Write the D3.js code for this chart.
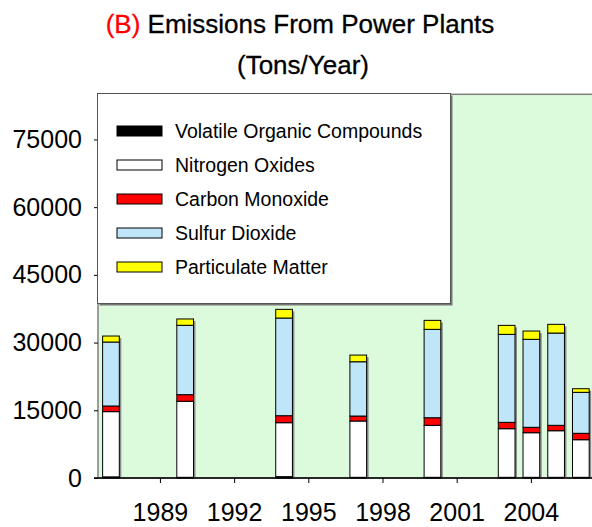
<!DOCTYPE html>
<html>
<head>
<meta charset="utf-8">
<script src="https://cdn.jsdelivr.net/npm/d3@7"></script>
<style>
  body { margin: 0; background: #fff; }
  text { font-family: "Liberation Sans", Arial, sans-serif; }
</style>
</head>
<body>
<div class="chart"></div>
<script>
// Emissions from power plants, stacked columns
// data (tons / year)
var years = [1987, 1990, 1994, 1997, 2000, 2003, 2004, 2005, 2006];
var voc = [250, 150, 300, 150, 150, 150, 150, 150, 150];
var nox = [14450, 16850, 11950, 12470, 11520, 10770, 9880, 10320, 8330];
var co = [1250, 1460, 1550, 1110, 1680, 1410, 1200, 1200, 1420];
var so2 = [14170, 15370, 21635, 12020, 19580, 19490, 19490, 20440, 9080];
var pm = [1330, 1400, 1925, 1480, 1990, 1990, 1840, 1930, 800];

var seriesNames = ["Volatile Organic Compounds", "Nitrogen Oxides", "Carbon Monoxide", "Sulfur Dioxide", "Particulate Matter"];
var seriesKeys = ["voc", "nox", "co", "so2", "pm"];
var seriesColors = ["#000000", "#ffffff", "#ff0000", "#bfe6f8", "#ffff00"];

var yTicks = [0, 15000, 30000, 45000, 60000, 75000];
var xTicks = [1989, 1992, 1995, 1998, 2001, 2004];

// Step 1: chart setup
var svgWidth = 592;
var svgHeight = 527;
var plot = { left: 98, top: 94.3, bottom: 478, right: 600 };

var svg = d3.select(".chart")
  .append("svg")
  .attr("width", svgWidth)
  .attr("height", svgHeight);

// rows for the stack
var rows = years.map(function (y, i) {
  return { year: y, voc: voc[i], nox: nox[i], co: co[i], so2: so2[i], pm: pm[i] };
});

// Step 2: scales
var xScale = d3.scaleBand()
  .domain(d3.range(1987, 2007))
  .range([98.6, 98.6 + 20 * 24.73])
  .paddingInner(0.325)
  .paddingOuter(0.1625);

var yScale = d3.scaleLinear()
  .domain([0, 85000])
  .range([plot.bottom, plot.top]);

// Step 3: plot area
svg.append("rect")
  .attr("x", plot.left)
  .attr("y", plot.top)
  .attr("width", plot.right - plot.left)
  .attr("height", plot.bottom - plot.top)
  .attr("fill", "#dcfadc")
  .attr("stroke", "#808080")
  .attr("stroke-width", 1.5);

// Step 4: stacked bars
var stacked = d3.stack().keys(seriesKeys)(rows);

// shadows first
svg.append("g").selectAll("rect")
  .data(rows)
  .enter()
  .append("rect")
  .attr("x", d => xScale(d.year) + 2)
  .attr("y", d => yScale(d.voc + d.nox + d.co + d.so2 + d.pm) + 2)
  .attr("width", xScale.bandwidth())
  .attr("height", d => plot.bottom - yScale(d.voc + d.nox + d.co + d.so2 + d.pm) - 2)
  .attr("fill", "#8c8c8c");

stacked.forEach(function (layer, k) {
  svg.append("g").selectAll("rect")
    .data(layer)
    .enter()
    .append("rect")
    .attr("x", d => xScale(d.data.year))
    .attr("y", d => yScale(d[1]))
    .attr("width", xScale.bandwidth())
    .attr("height", d => yScale(d[0]) - yScale(d[1]))
    .attr("fill", seriesColors[k])
    .attr("stroke", "#000")
    .attr("stroke-width", 1);
});

// Step 5: axes
var leftAxis = d3.axisLeft(yScale)
  .tickValues(yTicks)
  .tickFormat(d3.format("d"))
  .tickSize(4)
  .tickSizeOuter(0)
  .tickPadding(12);

var yAxisG = svg.append("g")
  .attr("transform", `translate(${plot.left}, 0)`)
  .call(leftAxis);
yAxisG.select(".domain").remove();
yAxisG.selectAll("text").attr("font-size", 25).attr("font-family", "Liberation Sans, Arial, sans-serif").attr("fill", "#000");

var bottomAxis = d3.axisBottom(xScale)
  .tickValues(xTicks)
  .tickSize(5)
  .tickSizeOuter(0)
  .tickPadding(20);

var xAxisG = svg.append("g")
  .attr("transform", `translate(0, ${plot.bottom})`)
  .call(bottomAxis);
xAxisG.select(".domain").remove();
xAxisG.selectAll("text").attr("font-size", 25).attr("font-family", "Liberation Sans, Arial, sans-serif").attr("fill", "#000");

svg.append("line")
  .attr("x1", 94).attr("x2", svgWidth)
  .attr("y1", plot.bottom).attr("y2", plot.bottom)
  .attr("stroke", "#000")
  .attr("stroke-width", 1.5);

// Step 6: title (a little heavier than plain regular)
var title = svg.append("text")
  .attr("x", 300)
  .attr("y", 33)
  .attr("text-anchor", "middle")
  .attr("font-size", 26)
  .attr("stroke-width", 0.3);
title.append("tspan").attr("fill", "#ff0000").attr("stroke", "#ff0000").text("(B)");
title.append("tspan").attr("fill", "#000").attr("stroke", "#000").text(" Emissions From Power Plants");

svg.append("text")
  .attr("x", 303)
  .attr("y", 74)
  .attr("text-anchor", "middle")
  .attr("font-size", 26)
  .attr("stroke", "#000")
  .attr("stroke-width", 0.3)
  .text("(Tons/Year)");

// Step 7: legend
var legend = svg.append("g");
legend.append("rect")
  .attr("x", 99.5).attr("y", 95.5)
  .attr("width", 353).attr("height", 210)
  .attr("fill", "#777");
legend.append("rect")
  .attr("x", 97.5).attr("y", 93.5)
  .attr("width", 353).attr("height", 210)
  .attr("fill", "#fff")
  .attr("stroke", "#555")
  .attr("stroke-width", 1);

var legendRows = legend.selectAll(".legendRow")
  .data(seriesNames)
  .enter()
  .append("g")
  .attr("class", "legendRow")
  .attr("transform", (d, i) => `translate(0, ${131 + i * 34})`);

legendRows.append("rect")
  .attr("x", 117).attr("y", -5)
  .attr("width", 45).attr("height", 10)
  .attr("fill", (d, i) => seriesColors[i])
  .attr("stroke", "#000")
  .attr("stroke-width", 1);

legendRows.append("text")
  .attr("x", 175)
  .attr("y", 7)
  .attr("font-size", 19.5)
  .attr("fill", "#000")
  .text(d => d);
</script>
</body>
</html>
